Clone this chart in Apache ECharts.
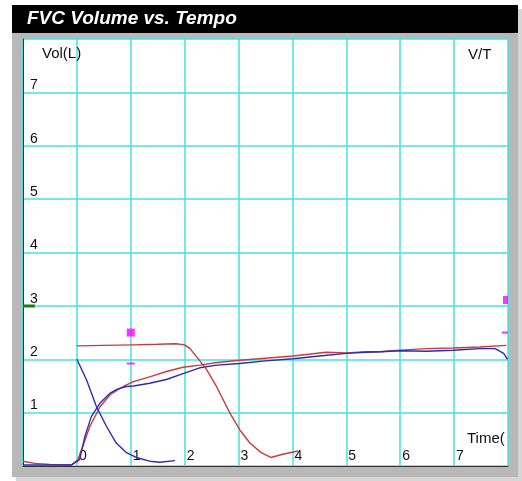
<!DOCTYPE html>
<html>
<head>
<meta charset="utf-8">
<script src="https://cdn.jsdelivr.net/npm/echarts@6/dist/echarts.min.js"></script>
<style>html,body{margin:0;padding:0;background:#fff;}#c{width:522px;height:481px;}</style>
</head>
<body>
<div id="c"></div>
<script>
const titleText = 'FVC Volume vs. Tempo';
const yAxisName = 'Vol(L)';
const xAxisName = 'Time(';
const cornerLabel = 'V/T';
const xTicks = [0, 1, 2, 3, 4, 5, 6, 7];
const yTicks = [1, 2, 3, 4, 5, 6, 7];
const redVT = [[-1,0.09],[-0.78,0.05],[-0.5,0.03],[-0.1,0.02],[0.02,0.12],[0.11,0.37],[0.24,0.74],[0.43,1.11],[0.61,1.33],[0.86,1.49],[1.05,1.58],[1.35,1.67],[1.66,1.77],[1.97,1.85],[2.28,1.89],[2.6,1.94],[3.02,1.98],[3.5,2.02],[4.01,2.06],[4.63,2.13],[5.0,2.12],[5.37,2.14],[5.63,2.14],[6.0,2.17],[6.49,2.2],[6.98,2.21],[7.48,2.23],[7.97,2.26]];
const blueVT = [[-1,0.02],[-0.1,0.02],[0.05,0.12],[0.15,0.56],[0.27,0.93],[0.43,1.18],[0.61,1.36],[0.75,1.44],[0.92,1.49],[1.05,1.5],[1.35,1.55],[1.66,1.62],[1.97,1.73],[2.28,1.84],[2.6,1.89],[3.02,1.92],[3.5,1.97],[4.01,2.01],[4.5,2.06],[5.0,2.11],[5.37,2.13],[5.63,2.14],[6.0,2.16],[6.49,2.15],[6.98,2.17],[7.48,2.2],[7.76,2.2],[7.92,2.11],[7.99,2.0]];
const blueFlow = [[0,2.0],[0.18,1.61],[0.36,1.12],[0.55,0.74],[0.73,0.43],[0.92,0.25],[1.1,0.16],[1.35,0.09],[1.54,0.07],[1.82,0.1]];
const redFlow = [[0,2.25],[0.5,2.26],[1.04,2.27],[1.5,2.28],[1.84,2.29],[2.0,2.27],[2.1,2.2],[2.22,2.05],[2.41,1.8],[2.59,1.49],[2.84,0.99],[3.02,0.68],[3.21,0.43],[3.42,0.25],[3.6,0.16],[3.82,0.22],[4.1,0.28]];
const greenMark = [[-1,3],[-0.78,3]];
const magentaSquareLeft = [[1,2.5]];
const magentaDashLeft = [[1,1.92]];
const magentaSquareRight = [[8,3.11]];
const magentaDashRight = [[8,2.5]];

const RED = '#cc3b3b', BLUE = '#2b2bb5', MAG = '#ff00ff';
const chart = echarts.init(document.getElementById('c'), null, {renderer:'canvas'});
const FONT = 'Liberation Sans, Arial, sans-serif';
chart.setOption({
  animation: false,
  graphic: [
    {type:'rect', z:-10, shape:{x:16,y:9,width:506,height:472}, style:{fill:'#d6d6d6'}},
    {type:'rect', z:-9, shape:{x:12,y:5,width:506,height:472}, style:{fill:'#b8b8b8'}},
    {type:'rect', z:-8, shape:{x:12,y:5,width:506,height:28}, style:{fill:'#000'}},
    {type:'text', z:10, left:27, top:9, style:{text:titleText, fill:'#fff', font:'italic bold 19px '+FONT}},
    {type:'text', z:10, left:42, top:46, style:{text:yAxisName, fill:'#111', font:'15px '+FONT}},
    {type:'text', z:10, left:468, top:47, style:{text:cornerLabel, fill:'#111', font:'15px '+FONT}},
    {type:'text', z:10, left:467, top:431, style:{text:xAxisName, fill:'#111', font:'15px '+FONT}}
  ],
  grid: {left:23, top:39, width:485, height:427, show:true, backgroundColor:'#fff', borderWidth:0},
  xAxis: {
    type:'value', min:-1, max:8, interval:1,
    axisLine:{show:true, onZero:false, lineStyle:{color:'#333', width:1}},
    axisTick:{show:false},
    splitLine:{show:true, lineStyle:{color:'#45e2e2', width:1.5}},
    axisLabel:{inside:true, margin:3, align:'left', padding:[0,0,0,2], color:'#111', fontSize:14, fontFamily:FONT,
      formatter: v => xTicks.includes(v) ? String(v) : ''}
  },
  yAxis: {
    type:'value', min:0, max:8, interval:1,
    axisLine:{show:true, onZero:false, lineStyle:{color:'#333', width:1}},
    axisTick:{show:false},
    splitLine:{show:true, lineStyle:{color:'#45e2e2', width:1.5}},
    axisLabel:{inside:true, margin:7, align:'left', verticalAlign:'bottom', color:'#111', fontSize:14, fontFamily:FONT,
      formatter: v => yTicks.includes(v) ? String(v) : ''}
  },
  series: [
    {type:'line', data:redVT, showSymbol:false, lineStyle:{color:RED, width:1.4}, silent:true},
    {type:'line', data:blueVT, showSymbol:false, lineStyle:{color:BLUE, width:1.4}, silent:true},
    {type:'line', data:blueFlow, showSymbol:false, lineStyle:{color:BLUE, width:1.4}, silent:true},
    {type:'line', data:redFlow, showSymbol:false, lineStyle:{color:RED, width:1.4}, silent:true},
    {type:'line', data:greenMark, showSymbol:false, lineStyle:{color:'#1a7a1a', width:3}, silent:true},
    {type:'scatter', data:magentaSquareLeft, symbol:'rect', symbolSize:[8,8], itemStyle:{color:MAG}, silent:true},
    {type:'scatter', data:magentaDashLeft, symbol:'rect', symbolSize:[8,2], itemStyle:{color:MAG}, silent:true},
    {type:'scatter', data:magentaSquareRight, symbol:'rect', symbolSize:[5,8], symbolOffset:[-2.5,0], itemStyle:{color:MAG}, silent:true},
    {type:'scatter', data:magentaDashRight, symbol:'rect', symbolSize:[6,2], symbolOffset:[-3,0], itemStyle:{color:MAG}, silent:true}
  ]
});
</script>
</body>
</html>
